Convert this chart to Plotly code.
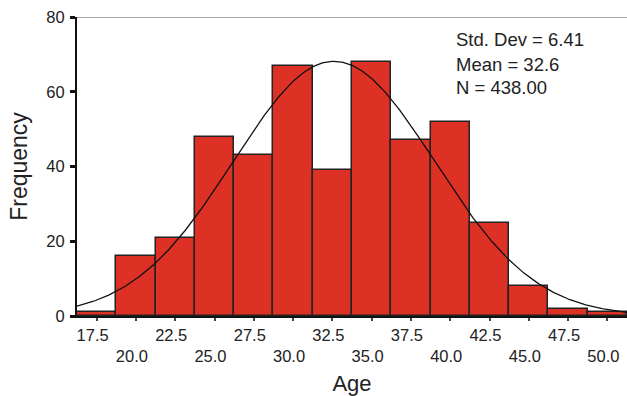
import numpy as np
import plotly.graph_objects as go

# Data
bin_centers = [17.5, 20.0, 22.5, 25.0, 27.5, 30.0, 32.5, 35.0, 37.5, 40.0, 42.5, 45.0, 47.5, 50.0]
frequencies = [1, 16, 21, 48, 43, 67, 39, 68, 47, 52, 25, 8, 2, 1]
bin_width = 2.5
tick_labels = ["17.5", "20.0", "22.5", "25.0", "27.5", "30.0", "32.5",
               "35.0", "37.5", "40.0", "42.5", "45.0", "47.5", "50.0"]
y_ticks = [0, 20, 40, 60, 80]

# Statistics shown on the chart (define the fitted normal curve)
std_dev = 6.41
mean = 32.6
n_total = 438

FONT = "Liberation Sans, Arial, Helvetica, sans-serif"

x_lo = bin_centers[0] - bin_width / 2
x_hi = bin_centers[-1] + bin_width / 2

xs = np.linspace(x_lo, x_hi, 400)
ys = n_total * bin_width / (std_dev * np.sqrt(2 * np.pi)) * np.exp(-0.5 * ((xs - mean) / std_dev) ** 2)

# Alternate tick labels into two rows
ticktext = [lab if i % 2 == 0 else "<br>" + lab for i, lab in enumerate(tick_labels)]

fig = go.Figure()
fig.add_trace(go.Bar(
    x=bin_centers, y=frequencies, width=[bin_width] * len(bin_centers),
    marker=dict(color="#DD3125", line=dict(color="#222222", width=1.5)),
    hoverinfo="x+y", showlegend=False,
))
fig.add_trace(go.Scatter(
    x=xs, y=ys, mode="lines", line=dict(color="#111111", width=1.3),
    hoverinfo="skip", showlegend=False,
))

fig.update_layout(
    width=627, height=396,
    margin=dict(l=77, r=0, t=17, b=80),
    paper_bgcolor="white", plot_bgcolor="white",
    font=dict(family=FONT, color="#222222"),
    bargap=0,
    xaxis=dict(
        range=[x_lo, x_hi], tickvals=bin_centers, ticktext=ticktext,
        ticks="outside", ticklen=3, tickwidth=2, tickcolor="#444444",
        ticklabelshift=-4,
        showline=True, linecolor="#111111", linewidth=2,
        showgrid=False, zeroline=False, automargin=False,
        tickfont=dict(size=16.5, family=FONT, color="#222222"),
        title=dict(text="Age", font=dict(size=22, family=FONT, color="#222222"), standoff=13),
    ),
    yaxis=dict(
        range=[0, 80], tickvals=y_ticks,
        ticks="outside", ticklen=5, tickwidth=3, tickcolor="#111111",
        ticklabelstandoff=2,
        showline=True, linecolor="#111111", linewidth=2,
        showgrid=False, zeroline=False, automargin=False,
        tickfont=dict(size=16.5, family=FONT, color="#222222"),
        title=dict(text="Frequency", font=dict(size=23, family=FONT, color="#222222"), standoff=12),
    ),
    shapes=[dict(type="line", xref="paper", yref="y", x0=0, x1=1, y0=80, y1=80,
                 line=dict(color="#555555", width=1))],
    annotations=[
        dict(xref="paper", yref="paper", x=0.686, y=(316 - 40) / 299, xanchor="left", yanchor="middle",
             text="Std. Dev = 6.41", showarrow=False, font=dict(size=18.5, family=FONT, color="#222222")),
        dict(xref="paper", yref="paper", x=0.686, y=(316 - 64) / 299, xanchor="left", yanchor="middle",
             text="Mean = 32.6", showarrow=False, font=dict(size=18.5, family=FONT, color="#222222")),
        dict(xref="paper", yref="paper", x=0.686, y=(316 - 88) / 299, xanchor="left", yanchor="middle",
             text="N = 438.00", showarrow=False, font=dict(size=18.5, family=FONT, color="#222222")),
    ],
)

fig.write_html("out.html", config={"displayModeBar": False},
               post_script="document.body.style.margin='0px';document.body.style.overflow='hidden';")
